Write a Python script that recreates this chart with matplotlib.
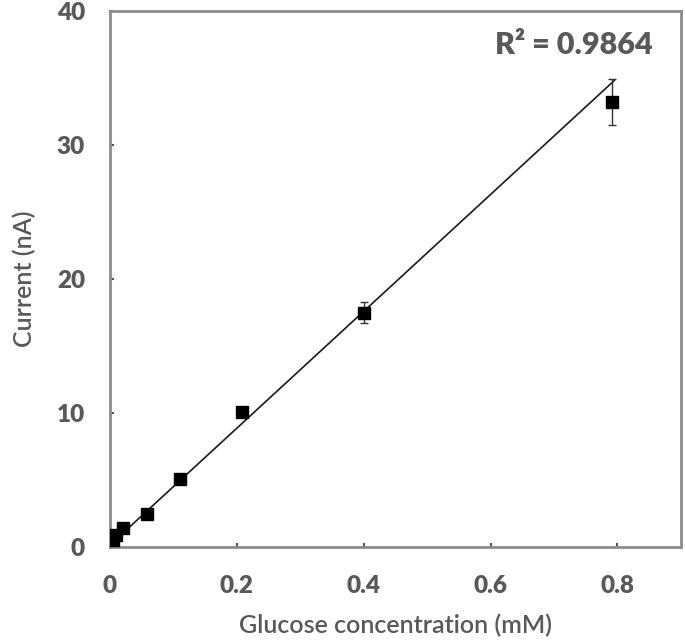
import matplotlib
matplotlib.use("Agg")
import matplotlib.pyplot as plt

# glucose calibration data
conc = [0.005, 0.01, 0.02, 0.059, 0.11, 0.208, 0.40, 0.792]
current = [0.5, 0.9, 1.4, 2.45, 5.1, 10.1, 17.5, 33.2]
current_err = [0.1, 0.1, 0.15, 0.2, 0.3, 0.3, 0.8, 1.7]

# linear trendline
fit_slope = 43.6
fit_intercept = 0.15
fit_x = [0.0, 0.795]
r2_label = "R\u00b2 = 0.9864"

xticks = [0, 0.2, 0.4, 0.6, 0.8]
xticklabels = ["0", "0.2", "0.4", "0.6", "0.8"]
yticks = [0, 10, 20, 30, 40]

gray = "#595959"
spine_gray = "#8c8c8c"
plt.rcParams['font.family'] = ['Lato', 'DejaVu Sans']

fig = plt.figure(figsize=(6.85, 6.4), dpi=100)
ax = fig.add_axes([0.1606, 0.1453, 0.8334, 0.8375])

fit_y = [fit_slope * x + fit_intercept for x in fit_x]
ax.plot(fit_x, fit_y, color="#1a1a1a", linewidth=1.2, zorder=2)

ax.errorbar(conc, current, yerr=current_err, fmt="s", color="black",
            markersize=9, ecolor="#333333", elinewidth=1.0, capsize=3,
            capthick=1.0, zorder=3)

ax.set_xlim(0, 0.9)
ax.set_ylim(0, 40)
ax.set_xticks(xticks)
ax.set_xticklabels(xticklabels)
ax.set_yticks(yticks)

for s in ax.spines.values():
    s.set_color(spine_gray)
    s.set_linewidth(2)

ax.tick_params(direction="in", length=3, width=1.5, color="#555555",
               labelsize=17.5, labelcolor=gray)
ax.tick_params(axis="x", pad=20)
ax.tick_params(axis="y", pad=18)
for lbl in ax.get_xticklabels() + ax.get_yticklabels():
    lbl.set_fontweight("heavy")

ax.set_xlabel("Glucose concentration (mM)", fontsize=18, color=gray,
              fontweight="semibold", labelpad=12)
ax.set_ylabel("Current (nA)", fontsize=18, color=gray, fontweight="semibold")
ax.yaxis.set_label_coords(-0.13, 0.5)

ax.text(0.607, 37.5, r2_label, fontsize=22, fontweight="heavy", color=gray,
        ha="left", va="center")

fig.savefig("out.png", dpi=100)
